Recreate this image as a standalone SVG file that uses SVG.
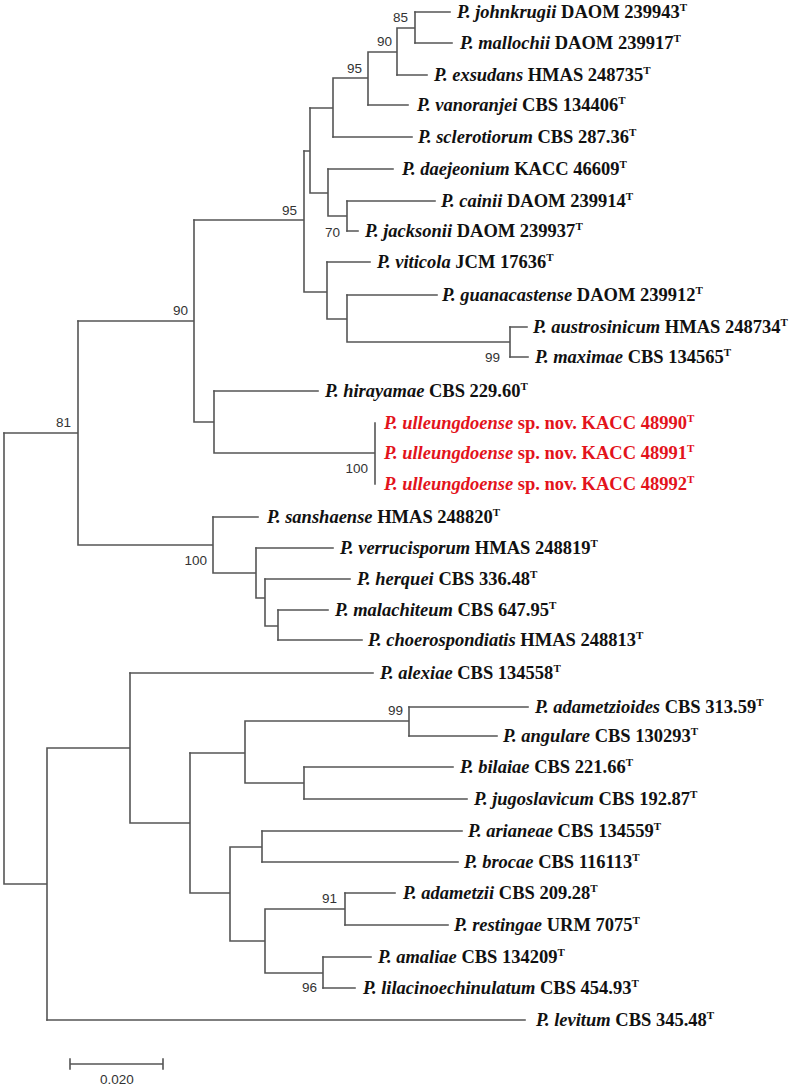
<svg xmlns="http://www.w3.org/2000/svg" width="800" height="1087" viewBox="0 0 800 1087">
<style>
.br{fill:none;stroke:#555;stroke-width:1.6;stroke-linecap:square}
.t{font-family:"Liberation Serif","Times New Roman",serif;font-size:18.5px;font-weight:bold;fill:#111}
.i{font-style:italic}
.s{font-size:11px}
.red{fill:#e3131b}
.bs{font-family:"Liberation Sans",Arial,sans-serif;font-size:13.5px;fill:#333;text-anchor:end}
</style>
<rect width="800" height="1087" fill="#fff"/>
<g id="connectors" class="br">
<path d="M415 12H450M415 43H452M397 75H427M368 105H408M333 137H412M328 169H393M347 201H435M347 231H358M327 262H370M347 295H437M510 327H527M510 357H528M214 391H318"/>
<path d="M213 517H258M256 548H333M265 579H350M278 610H328M278 640H362M130 673H373M409 707H528M409 736H497M304 767H453M304 799H467M262 831H462M262 862H458M345 893H395M345 925H448M323 957H371M323 988H355M47 1020H525"/>
<path d="M415 12V43M397 28H415M397 28V75M368 52H397M368 52V105M333 78H368M333 78V137M310 108H333"/>
<path d="M347 201V231M328 216H347M328 169V216M310 193H328M310 108V193M304 151H310"/>
<path d="M510 327V357M347 342H510M347 295V342M327 319H347M327 262V319M304 292H327M304 151V292M194 220H304"/>
<path d="M375 423V484M214 453H375M214 391V453M194 422H214M194 220V422M78 321H194"/>
<path d="M278 610V640M265 626H278M265 579V626M256 598H265M256 548V598M213 573H256M213 517V573M78 545H213M78 321V545M4 433H78"/>
<path d="M409 707V736M245 721H409M304 767V799M245 783H304M245 721V783M190 753H245"/>
<path d="M262 831V862M230 847H262M345 893V925M265 909H345M323 957V988M265 973H323M265 909V973M230 941H265M230 847V941M190 893H230M190 753V893M130 823H190M130 673V823M47 748H130M47 748V1020M4 884H47M4 433V884"/>
<path d="M70 1064H163M70 1059V1069M163 1059V1069"/>
</g>
<g id="bootstrap" class="bs">
<text x="408" y="22">85</text>
<text x="392" y="46">90</text>
<text x="362" y="73">95</text>
<text x="340" y="237">70</text>
<text x="297" y="215">95</text>
<text x="500" y="362">99</text>
<text x="188" y="315">90</text>
<text x="368" y="473">100</text>
<text x="71" y="427">81</text>
<text x="207" y="565">100</text>
<text x="403" y="715">99</text>
<text x="337" y="903">91</text>
<text x="317" y="992">96</text>
</g>
<g id="scale"><text x="117" y="1084" class="bs" style="text-anchor:middle">0.020</text></g>
<g id="n-johnkrugii"><text class="t" x="457" y="18"><tspan class="i">P. johnkrugii</tspan> DAOM 239943<tspan class="s" dy="-7">T</tspan></text></g>
<g id="n-mallochii"><text class="t" x="460" y="49"><tspan class="i">P. mallochii</tspan> DAOM 239917<tspan class="s" dy="-7">T</tspan></text></g>
<g id="n-exsudans"><text class="t" x="434" y="81"><tspan class="i">P. exsudans</tspan> HMAS 248735<tspan class="s" dy="-7">T</tspan></text></g>
<g id="n-vanoranjei"><text class="t" x="417" y="111"><tspan class="i">P. vanoranjei</tspan> CBS 134406<tspan class="s" dy="-7">T</tspan></text></g>
<g id="n-sclerotiorum"><text class="t" x="418" y="143"><tspan class="i">P. sclerotiorum</tspan> CBS 287.36<tspan class="s" dy="-7">T</tspan></text></g>
<g id="n-daejeonium"><text class="t" x="402" y="175"><tspan class="i">P. daejeonium</tspan> KACC 46609<tspan class="s" dy="-7">T</tspan></text></g>
<g id="n-cainii"><text class="t" x="441" y="207"><tspan class="i">P. cainii</tspan> DAOM 239914<tspan class="s" dy="-7">T</tspan></text></g>
<g id="n-jacksonii"><text class="t" x="365" y="237"><tspan class="i">P. jacksonii</tspan> DAOM 239937<tspan class="s" dy="-7">T</tspan></text></g>
<g id="n-viticola"><text class="t" x="377" y="268"><tspan class="i">P. viticola</tspan> JCM 17636<tspan class="s" dy="-7">T</tspan></text></g>
<g id="n-guanacastense"><text class="t" x="442" y="301"><tspan class="i">P. guanacastense</tspan> DAOM 239912<tspan class="s" dy="-7">T</tspan></text></g>
<g id="n-austrosinicum"><text class="t" x="533" y="333"><tspan class="i">P. austrosinicum</tspan> HMAS 248734<tspan class="s" dy="-7">T</tspan></text></g>
<g id="n-maximae"><text class="t" x="535" y="363"><tspan class="i">P. maximae</tspan> CBS 134565<tspan class="s" dy="-7">T</tspan></text></g>
<g id="n-hirayamae"><text class="t" x="325" y="397"><tspan class="i">P. hirayamae</tspan> CBS 229.60<tspan class="s" dy="-7">T</tspan></text></g>
<g id="n-ulleungdoense-48990"><text class="t red" x="384" y="429"><tspan class="i">P. ulleungdoense</tspan> sp. nov. KACC 48990<tspan class="s" dy="-7">T</tspan></text></g>
<g id="n-ulleungdoense-48991"><text class="t red" x="384" y="459"><tspan class="i">P. ulleungdoense</tspan> sp. nov. KACC 48991<tspan class="s" dy="-7">T</tspan></text></g>
<g id="n-ulleungdoense-48992"><text class="t red" x="384" y="490"><tspan class="i">P. ulleungdoense</tspan> sp. nov. KACC 48992<tspan class="s" dy="-7">T</tspan></text></g>
<g id="n-sanshaense"><text class="t" x="267" y="523"><tspan class="i">P. sanshaense</tspan> HMAS 248820<tspan class="s" dy="-7">T</tspan></text></g>
<g id="n-verrucisporum"><text class="t" x="340" y="554"><tspan class="i">P. verrucisporum</tspan> HMAS 248819<tspan class="s" dy="-7">T</tspan></text></g>
<g id="n-herquei"><text class="t" x="357" y="585"><tspan class="i">P. herquei</tspan> CBS 336.48<tspan class="s" dy="-7">T</tspan></text></g>
<g id="n-malachiteum"><text class="t" x="335" y="616"><tspan class="i">P. malachiteum</tspan> CBS 647.95<tspan class="s" dy="-7">T</tspan></text></g>
<g id="n-choerospondiatis"><text class="t" x="368" y="646"><tspan class="i">P. choerospondiatis</tspan> HMAS 248813<tspan class="s" dy="-7">T</tspan></text></g>
<g id="n-alexiae"><text class="t" x="380" y="679"><tspan class="i">P. alexiae</tspan> CBS 134558<tspan class="s" dy="-7">T</tspan></text></g>
<g id="n-adametzioides"><text class="t" x="535" y="713"><tspan class="i">P. adametzioides</tspan> CBS 313.59<tspan class="s" dy="-7">T</tspan></text></g>
<g id="n-angulare"><text class="t" x="503" y="742"><tspan class="i">P. angulare</tspan> CBS 130293<tspan class="s" dy="-7">T</tspan></text></g>
<g id="n-bilaiae"><text class="t" x="460" y="773"><tspan class="i">P. bilaiae</tspan> CBS 221.66<tspan class="s" dy="-7">T</tspan></text></g>
<g id="n-jugoslavicum"><text class="t" x="474" y="805"><tspan class="i">P. jugoslavicum</tspan> CBS 192.87<tspan class="s" dy="-7">T</tspan></text></g>
<g id="n-arianeae"><text class="t" x="468" y="837"><tspan class="i">P. arianeae</tspan> CBS 134559<tspan class="s" dy="-7">T</tspan></text></g>
<g id="n-brocae"><text class="t" x="464" y="868"><tspan class="i">P. brocae</tspan> CBS 116113<tspan class="s" dy="-7">T</tspan></text></g>
<g id="n-adametzii"><text class="t" x="403" y="899"><tspan class="i">P. adametzii</tspan> CBS 209.28<tspan class="s" dy="-7">T</tspan></text></g>
<g id="n-restingae"><text class="t" x="454" y="931"><tspan class="i">P. restingae</tspan> URM 7075<tspan class="s" dy="-7">T</tspan></text></g>
<g id="n-amaliae"><text class="t" x="378" y="963"><tspan class="i">P. amaliae</tspan> CBS 134209<tspan class="s" dy="-7">T</tspan></text></g>
<g id="n-lilacinoechinulatum"><text class="t" x="363" y="994"><tspan class="i">P. lilacinoechinulatum</tspan> CBS 454.93<tspan class="s" dy="-7">T</tspan></text></g>
<g id="n-levitum"><text class="t" x="536" y="1026"><tspan class="i">P. levitum</tspan> CBS 345.48<tspan class="s" dy="-7">T</tspan></text></g>
</svg>
